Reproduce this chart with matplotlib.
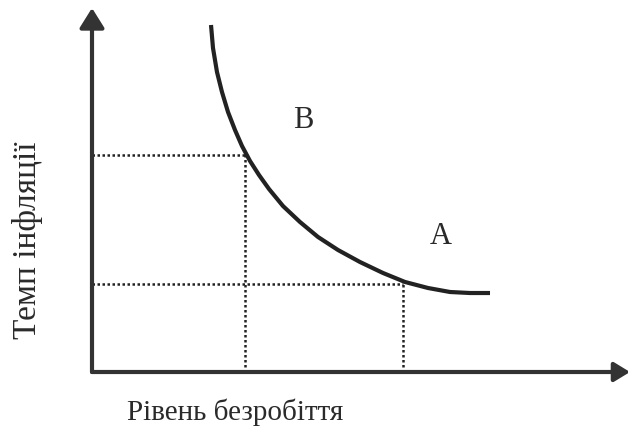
import matplotlib
matplotlib.use("Agg")
import matplotlib.pyplot as plt

# Phillips curve (arbitrary units): unemployment vs inflation
unemployment = [2.212, 2.249, 2.323, 2.416, 2.528, 2.658, 2.788, 2.937, 3.104, 3.290, 3.550,
                3.866, 4.201, 4.572, 4.981, 5.409, 5.818, 6.245, 6.654, 7.026, 7.398]
inflation    = [9.533, 8.901, 8.242, 7.692, 7.143, 6.648, 6.209, 5.797, 5.412, 5.027, 4.560,
                4.121, 3.709, 3.352, 3.022, 2.720, 2.473, 2.308, 2.198, 2.170, 2.170]

# marked points on the curve (B-side and A-side)
point_u = [2.84, 5.78]
point_p = [5.96, 2.42]

labels = ["B", "A"]
label_u = [3.92, 6.49]
label_p = [6.92, 3.71]

xlabel = "Рівень безробіття"
ylabel = "Темп інфляції"

W, H = 632, 443
fig = plt.figure(figsize=(W / 100, H / 100), dpi=100)
ax = fig.add_axes([92 / W, (H - 372) / H, (630 - 92) / W, (372 - 8) / H])
ax.set_xlim(0, 10)
ax.set_ylim(0, 10)
ax.axis("off")

axcol = "#333333"
ax.annotate("", xy=(10, 0), xytext=(0, 0),
            arrowprops=dict(arrowstyle="-|>,head_length=0.95,head_width=0.58", lw=3,
                            color=axcol, shrinkA=0, shrinkB=0),
            annotation_clip=False)
ax.annotate("", xy=(0, 10), xytext=(0, 0),
            arrowprops=dict(arrowstyle="-|>,head_length=1.2,head_width=0.75", lw=3,
                            color=axcol, shrinkA=0, shrinkB=0),
            annotation_clip=False)

# dotted guide lines
for u, p in zip(point_u, point_p):
    ax.plot([0, u], [p, p], color="#222222", lw=1.8, ls=(0, (1, 1)), solid_capstyle="butt")
    ax.plot([u, u], [0, p], color="#222222", lw=1.8, ls=(0, (1, 1)), solid_capstyle="butt")

ax.plot(unemployment, inflation, color="#222222", lw=3.0, solid_capstyle="butt",
        solid_joinstyle="round")

serif = ["Liberation Serif", "DejaVu Serif"]
tcol = "#2a2a2a"
for t, u, p in zip(labels, label_u, label_p):
    ax.text(u, p, t, family=serif, fontsize=22, color=tcol, ha="center", va="center")

fig.text(235 / W, 1 - 412 / H, xlabel, family=serif, fontsize=21, color=tcol,
         ha="center", va="center")
fig.text(28 / W, 1 - 240 / H, ylabel, family=serif, fontsize=24, color=tcol,
         ha="center", va="center", rotation=90)

fig.savefig("out.png", dpi=100, facecolor="white")
